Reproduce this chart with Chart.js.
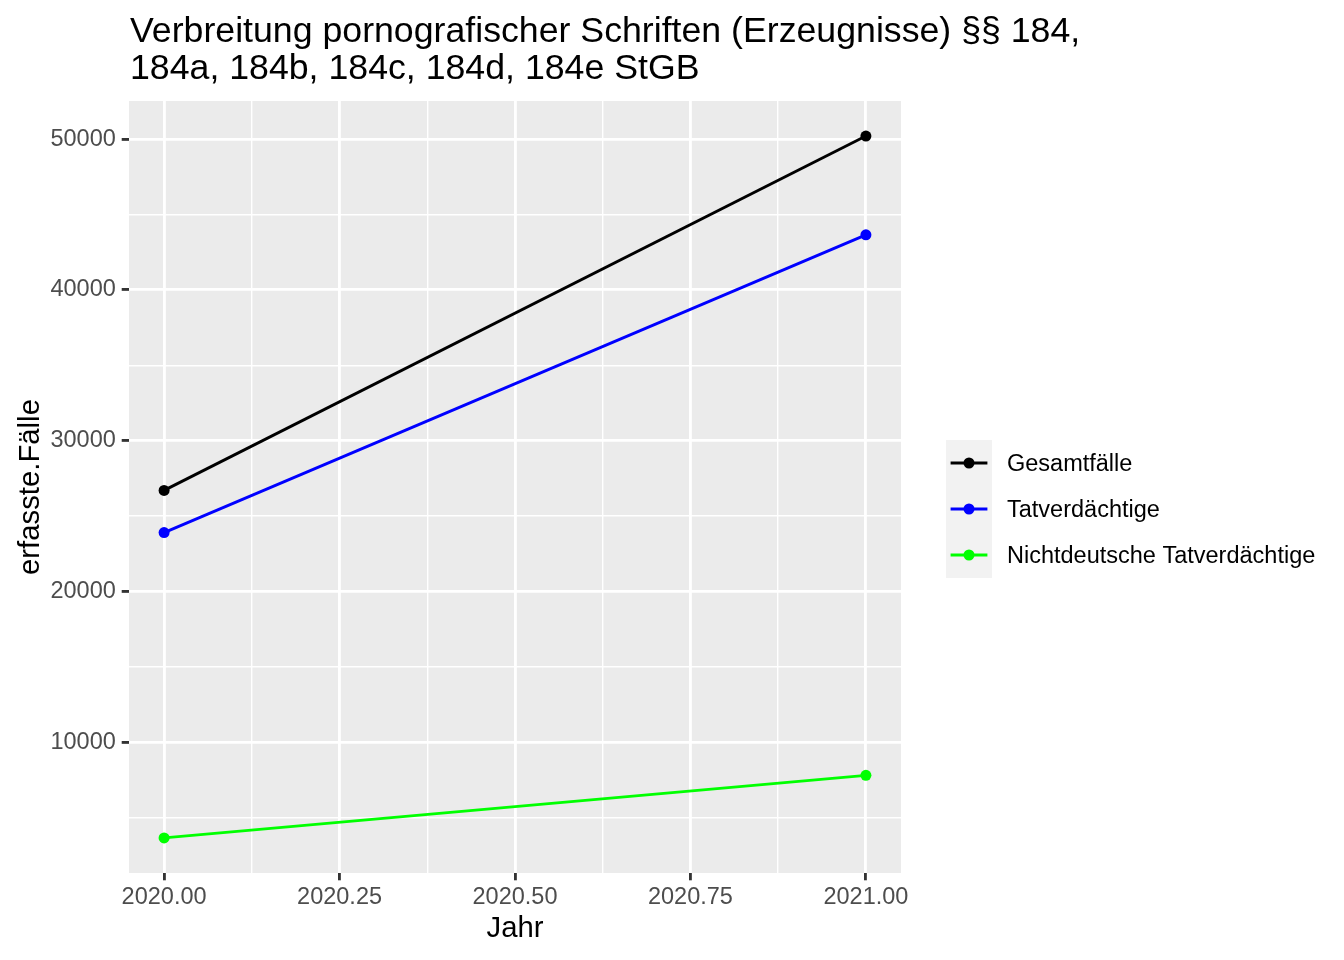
<!DOCTYPE html>
<html>
<head>
<meta charset="utf-8">
<script src="https://cdn.jsdelivr.net/npm/chart.js@4"></script>
<style>
  body { margin: 0; background: #fff; }
  #wrap { width: 1344px; height: 960px; }
</style>
</head>
<body>
<div id="wrap"><canvas id="myChart" width="1344" height="960"></canvas></div>
<script>
// data
const years = [2020, 2021];
const gesamtfaelle = [26700, 50200];
const tatverdaechtige = [23900, 43650];
const nichtdeutsche = [3650, 7800];

const seriesNames = ["Gesamtfälle", "Tatverdächtige", "Nichtdeutsche Tatverdächtige"];
const seriesColors = ["#000000", "#0000FF", "#00FF00"];

const xTicks = [2020, 2020.125, 2020.25, 2020.375, 2020.5, 2020.625, 2020.75, 2020.875, 2021];
const xLabels = ["2020.00", "", "2020.25", "", "2020.50", "", "2020.75", "", "2021.00"];
const yTicks = [5000, 10000, 15000, 20000, 25000, 30000, 35000, 40000, 45000, 50000];
const yLabels = ["", "10000", "", "20000", "", "30000", "", "40000", "", "50000"];

const titleLines = ["Verbreitung pornografischer Schriften (Erzeugnisse) §§ 184,", "184a, 184b, 184c, 184d, 184e StGB"];
const xTitle = "Jahr";
const yTitle = "erfasste.Fälle";

const FONT = "'Liberation Sans', Arial, sans-serif";
const MAJOR = 2.84, MINOR = 1.42;

// ggplot-like 5% expansion
const allY = gesamtfaelle.concat(tatverdaechtige, nichtdeutsche);
const yMin = Math.min(...allY), yMax = Math.max(...allY);
const yPad = (yMax - yMin) * 0.05;
const xPad = (years[years.length - 1] - years[0]) * 0.05;

const toPoints = (vals) => years.map((y, i) => ({ x: y, y: vals[i] }));
const allSeries = [gesamtfaelle, tatverdaechtige, nichtdeutsche];

const datasets = allSeries.map((vals, i) => ({
  label: seriesNames[i],
  data: toPoints(vals),
  borderColor: seriesColors[i],
  backgroundColor: seriesColors[i],
  borderWidth: MAJOR,
  pointRadius: 5.5,
  pointBorderWidth: 0,
  pointHoverRadius: 5.5,
  tension: 0,
}));

const isMajor = (list, labels, v) => labels[list.indexOf(v)] !== "";

const decorations = {
  id: "decorations",
  beforeDraw(chart) {
    const { ctx, chartArea: a } = chart;
    ctx.save();
    ctx.fillStyle = "#EBEBEB";
    ctx.fillRect(a.left, a.top, a.right - a.left, a.bottom - a.top);
    ctx.restore();
  },
  afterDraw(chart) {
    const { ctx, chartArea: a } = chart;
    ctx.save();
    // title
    ctx.fillStyle = "#000";
    ctx.font = "35.7px " + FONT;
    ctx.textAlign = "left";
    ctx.textBaseline = "alphabetic";
    ctx.fillText(titleLines[0], a.left + 1, 42);
    ctx.fillText(titleLines[1], a.left + 1, 79);

    // axis titles
    ctx.font = "29.3px " + FONT;
    ctx.textAlign = "center";
    ctx.textBaseline = "middle";
    ctx.fillText(xTitle, (a.left + a.right) / 2, 929);
    ctx.save();
    ctx.translate(31, (a.top + a.bottom) / 2);
    ctx.rotate(-Math.PI / 2);
    ctx.fillText(yTitle, 0, 0);
    ctx.restore();

    // legend
    const keyX = 946, keyY = 440, key = 46;
    ctx.fillStyle = "#F2F2F2";
    ctx.fillRect(keyX, keyY, key, key * seriesNames.length);
    ctx.font = "23.5px " + FONT;
    ctx.textAlign = "left";
    seriesNames.forEach((name, i) => {
      const cy = keyY + key * i + key / 2;
      ctx.strokeStyle = seriesColors[i];
      ctx.lineWidth = MAJOR;
      ctx.beginPath();
      ctx.moveTo(keyX + key * 0.1, cy);
      ctx.lineTo(keyX + key * 0.9, cy);
      ctx.stroke();
      ctx.fillStyle = seriesColors[i];
      ctx.beginPath();
      ctx.arc(keyX + key / 2, cy, 5.5, 0, Math.PI * 2);
      ctx.fill();
      ctx.fillStyle = "#000";
      ctx.fillText(name, keyX + key + 15, cy + 2);
    });
    ctx.restore();
  },
};

const config = {
  type: "line",
  data: { datasets: datasets },
  options: {
    responsive: false,
    animation: false,
    devicePixelRatio: 1,
    layout: { padding: { left: 0, top: 101, right: 443, bottom: 0 } },
    plugins: {
      legend: { display: false },
      title: { display: false },
      tooltip: { enabled: false },
    },
    scales: {
      x: {
        type: "linear",
        min: years[0] - xPad,
        max: years[years.length - 1] + xPad,
        afterBuildTicks: (scale) => { scale.ticks = xTicks.map((v) => ({ value: v })); },
        afterFit: (scale) => { scale.height = 87; },
        border: { display: false },
        grid: {
          color: "#FFFFFF",
          lineWidth: (c) => (isMajor(xTicks, xLabels, c.tick.value) ? MAJOR : MINOR),
          tickColor: (c) => (isMajor(xTicks, xLabels, c.tick.value) ? "#333333" : "rgba(0,0,0,0)"),
          tickWidth: MAJOR,
          tickLength: 7.3,
        },
        ticks: {
          autoSkip: false,
          maxRotation: 0,
          padding: 3,
          color: "#4D4D4D",
          font: { family: FONT, size: 23.5 },
          callback: (v) => xLabels[xTicks.indexOf(v)] ?? "",
        },
      },
      y: {
        type: "linear",
        min: yMin - yPad,
        max: yMax + yPad,
        afterBuildTicks: (scale) => { scale.ticks = yTicks.map((v) => ({ value: v })); },
        afterFit: (scale) => { scale.width = 129; },
        border: { display: false },
        grid: {
          color: "#FFFFFF",
          lineWidth: (c) => (isMajor(yTicks, yLabels, c.tick.value) ? MAJOR : MINOR),
          tickColor: (c) => (isMajor(yTicks, yLabels, c.tick.value) ? "#333333" : "rgba(0,0,0,0)"),
          tickWidth: MAJOR,
          tickLength: 7.3,
        },
        ticks: {
          autoSkip: false,
          padding: 5.9,
          color: "#4D4D4D",
          font: { family: FONT, size: 23.5 },
          callback: (v) => yLabels[yTicks.indexOf(v)] ?? "",
        },
      },
    },
  },
  plugins: [decorations],
};

new Chart(document.getElementById("myChart").getContext("2d"), config);
</script>
</body>
</html>
